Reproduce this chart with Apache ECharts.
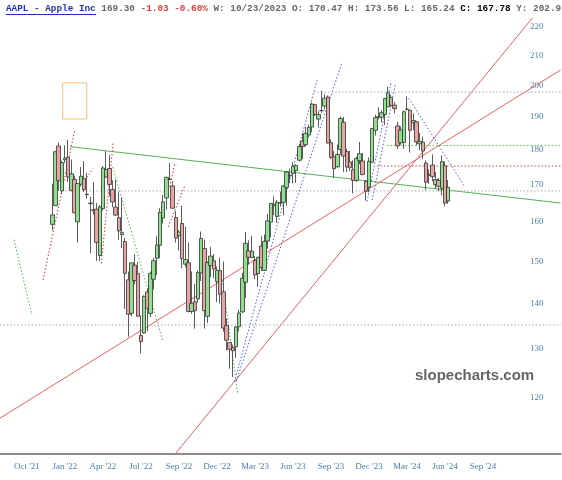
<!DOCTYPE html>
<html><head><meta charset="utf-8">
<script src="https://cdn.jsdelivr.net/npm/echarts@6/dist/echarts.min.js"></script>
<style>html,body{margin:0;padding:0;background:#fff}#c{width:562px;height:480px}</style>
</head><body><div id="c"></div>
<script>
// ---- data ----
const axisStart = '2021-08-09';   // first weekly slot on the x axis
const weekSlots = 177;            // weekly slots shown (incl. future)
const firstCandleSlot = 16;       // 2021-11-29
const opens  = [159.37,164.29,181.12,168.28,177.09,177.83,168.48,171.51,160.02,170.16,171.73,167.37,164.98,163.06,163.36,151.45,163.51,172.17,174.57,168.71,163.92,161.12,156.71,154.93,145.55,137.79,149.07,147.03,132.87,133.42,142.70,137.77,145.67,150.74,154.01,161.01,166.37,171.52,169.69,161.15,156.47,159.59,149.31,149.66,138.21,140.42,141.07,147.19,153.16,137.11,148.97,150.16,145.14,147.77,142.70,135.11,131.38,130.28,130.47,134.83,138.12,144.96,152.57,150.95,150.20,147.05,153.79,147.81,155.07,159.94,164.27,161.42,165.09,165.19,169.28,172.48,173.16,173.98,176.96,182.63,181.50,184.41,186.83,193.78,189.26,191.90,193.33,196.24,182.13,177.97,175.07,180.09,188.28,179.49,176.48,174.20,171.22,176.81,176.75,170.91,169.35,176.38,185.82,189.89,189.84,190.68,193.11,196.09,193.61,187.15,182.09,182.16,192.30,192.01,188.15,188.42,181.79,182.24,176.15,172.94,175.57,170.00,171.19,169.03,175.36,165.52];
const highs  = [170.30,179.63,182.13,176.85,181.33,182.94,177.18,172.54,170.35,175.00,176.65,173.34,166.69,170.70,165.02,164.48,175.28,179.61,178.49,171.27,171.53,167.88,166.48,155.83,147.52,149.68,151.74,149.87,137.34,141.91,143.49,147.55,150.86,156.28,163.63,167.19,172.17,176.15,171.05,162.90,157.82,164.26,158.74,154.72,147.54,144.52,147.85,157.50,155.45,150.01,153.59,151.83,148.72,150.92,149.97,136.63,131.41,130.90,134.92,138.61,147.23,157.38,155.23,156.33,151.30,151.11,156.30,156.74,162.14,165.00,166.84,165.80,168.16,169.85,173.85,174.59,176.39,175.77,181.78,184.95,186.99,187.56,194.48,193.88,191.70,198.23,197.14,196.73,183.13,179.69,181.55,189.98,189.98,180.30,179.70,176.97,177.99,182.34,179.08,171.38,177.78,186.57,190.67,192.93,192.09,195.99,199.62,196.95,194.66,188.44,187.05,191.95,196.38,192.20,191.05,188.67,185.04,183.92,176.90,174.38,178.67,173.60,171.92,178.36,176.63,171.34];
const lows   = [157.80,164.28,168.34,167.46,176.19,170.82,168.17,162.30,154.70,169.51,168.04,166.19,152.00,161.91,150.10,150.10,163.01,172.04,166.80,163.91,161.50,155.38,153.27,138.80,132.61,137.14,144.46,137.06,129.04,133.32,133.77,136.93,143.25,146.70,150.80,159.63,163.25,171.31,163.56,154.67,152.68,148.37,148.56,138.00,137.69,134.37,140.27,145.27,134.38,135.63,146.15,145.92,140.35,140.00,133.73,129.64,125.87,124.17,128.12,133.77,137.90,141.32,149.22,150.85,145.72,143.90,147.61,147.70,153.14,155.98,161.80,159.78,164.03,161.68,164.31,170.42,170.42,170.52,176.57,177.35,180.97,183.67,185.23,190.22,186.60,191.23,192.28,181.92,177.35,171.96,174.82,178.55,173.54,173.58,173.86,167.62,170.82,175.80,172.64,165.67,167.90,176.21,184.21,189.25,188.19,187.45,193.03,193.17,191.09,180.17,181.50,180.30,191.94,179.25,185.84,181.35,180.00,177.38,168.49,170.29,170.97,168.94,168.23,167.11,164.08,164.77];
const closes = [161.84,179.45,171.14,176.28,177.57,172.17,173.07,162.41,170.33,172.39,168.64,167.30,164.85,163.17,154.73,163.98,174.72,174.31,170.09,165.29,161.79,157.65,157.28,147.11,137.59,149.64,145.38,137.13,131.56,141.66,138.93,147.04,150.17,154.09,162.51,165.35,172.10,171.52,163.62,155.81,157.37,150.70,150.43,138.20,140.09,138.38,147.27,155.74,138.38,149.70,151.29,148.11,147.81,142.16,134.51,131.86,129.93,129.62,134.76,137.87,145.93,154.50,151.01,152.55,146.71,151.03,148.50,155.00,160.25,164.90,164.66,165.21,165.02,169.68,173.57,172.57,175.16,175.43,180.95,180.96,184.92,186.68,193.97,190.68,190.69,191.94,195.83,181.99,177.79,174.49,178.61,189.46,178.18,175.01,174.79,171.21,177.49,178.85,172.88,168.22,176.65,186.40,189.69,189.97,191.24,195.71,197.57,193.60,192.53,181.18,185.92,191.56,192.42,185.85,188.85,182.31,182.52,179.66,170.73,172.62,172.28,171.48,169.58,176.55,165.00,169.30];
const xTickLabels = ["Oct '21","Jan '22","Apr '22","Jul '22","Sep '22","Dec '22","Mar '23","Jun '23","Sep '23","Dec '23","Mar '24","Jun '24","Sep '24"];
const xTickFirstSlot = 8, xTickEvery = 12;
const yTickValues = [120,130,140,150,160,170,180,190,200,210,220];
const yRange = [109.49, 223.27];
// drawn trendlines: [slotStart, priceStart, slotEnd, priceEnd]
const greenSolid = [[21.8,180.9,176.5,165.0]];
const redSolid = [[-0.5,116.1,176.5,205.1],[54.8,109.5,167.6,223.3]];
const grayDotted = [[98.7,197.8,176.5,197.8],[20.0,168.3,176.5,168.3],[-0.5,135.2,176.5,135.2]];
const redDottedH = [[118.5,175.3,176.5,175.3]];
const greenDottedH = [[121.7,181.3,176.5,181.3]];
const blueDotted = [[73.5,123.2,99.6,201.7],[74.1,123.4,107.5,207.7],[115.4,165.4,122.9,200.7],[117.0,165.8,124.4,200.7],[128.6,195.8,145.9,169.9]];
const greenDotted = [[3.9,155.4,9.6,137.4],[35.1,175.0,50.8,131.9],[69.7,145.5,74.5,121.0]];
const redDotted = [[13.1,145.5,23.1,185.9],[25.7,170.4,28.9,174.6],[31.5,149.5,35.2,181.9],[52.6,158.7,57.9,169.9],[53.1,169.5,54.7,176.1]];
const noteBox = [19.3,200.8,26.9,189.3];

// ---- build ----
const cats = [];
const t0 = new Date(axisStart + 'T00:00:00Z').getTime();
for (let i = 0; i < weekSlots; i++) cats.push(new Date(t0 + i * 7 * 864e5).toISOString().slice(0, 10));
const candles = cats.map((c, i) => {
  const k = i - firstCandleSlot;
  return (k >= 0 && k < opens.length) ? [opens[k], closes[k], lows[k], highs[k]] : '-';
});

const styles = {
  greenSolid: {color: '#58b058', width: 1, type: 'solid'},
  redSolid: {color: '#f06060', width: 1, type: 'solid'},
  grayDotted: {color: '#a8a8a8', width: 1, type: [1.5, 2]},
  redDottedH: {color: '#e84040', width: 1, type: [1.5, 2]},
  greenDottedH: {color: '#50c050', width: 1, type: [1.5, 2]},
  blueDotted: {color: '#4a5ee0', width: 1, type: [1.5, 2]},
  greenDotted: {color: '#50b050', width: 1, type: [1.5, 2]},
  redDotted: {color: '#e03030', width: 1, type: [1.5, 2]}
};
const groups = {greenSolid, redSolid, grayDotted, redDottedH, greenDottedH, blueDotted, greenDotted, redDotted};
const lineSeries = [];
Object.keys(groups).forEach(name => {
  groups[name].forEach(seg => {
    lineSeries.push({
      type: 'line', xAxisIndex: 1, yAxisIndex: 0, silent: true, symbol: 'none', animation: false,
      data: [[seg[0], seg[1]], [seg[2], seg[3]]],
      lineStyle: styles[name], z: 1
    });
  });
});
lineSeries.push({
  type: 'line', xAxisIndex: 1, yAxisIndex: 0, silent: true, symbol: 'none', animation: false, data: [],
  markArea: {silent: true, itemStyle: {color: 'rgba(0,0,0,0)', borderColor: '#f7c26a', borderWidth: 1},
    data: [[{coord: [noteBox[0], noteBox[1]]}, {coord: [noteBox[2], noteBox[3]]}]]}
});

const chart = echarts.init(document.getElementById('c'), null, {renderer: 'canvas'});
chart.setOption({
  animation: false,
  backgroundColor: '#fff',
  title: {
    left: 6, top: 4, padding: 0,
    text: '{a|AAPL - Apple Inc} {g|169.30} {r|-1.03 -0.60%} {g|W: 10/23/2023 O: 170.47 H: 173.56 L: 165.24} {k|C: 167.78} {g|Y: 202.9}',
    textStyle: {
      fontFamily: 'Liberation Mono', fontSize: 9.35, color: '#666',
      rich: {
        a: {fontFamily: 'Liberation Mono', fontSize: 9.35, fontWeight: 'bold', color: '#2233aa'},
        g: {fontFamily: 'Liberation Mono', fontSize: 9.35, color: '#666'},
        r: {fontFamily: 'Liberation Mono', fontSize: 9.35, color: '#e03c3c'},
        k: {fontFamily: 'Liberation Mono', fontSize: 9.35, fontWeight: 'bold', color: '#000'}
      }
    }
  },
  graphic: [
    {type: 'line', shape: {x1: 6, y1: 14.5, x2: 96, y2: 14.5}, style: {stroke: '#2233aa', lineWidth: 1}},
    {type: 'text', left: 415, top: 368, style: {text: 'slopecharts.com', font: 'bold 15px "Liberation Sans", Arial, sans-serif', fill: '#666'}}
  ],
  grid: {left: 0, right: 0, top: 18, bottom: 26, containLabel: false},
  xAxis: [
    {
      type: 'category', data: cats, boundaryGap: true,
      axisLine: {show: true, lineStyle: {color: '#8a8a8a', width: 2}},
      axisTick: {show: false}, splitLine: {show: false},
      axisLabel: {
        interval: (idx) => idx >= xTickFirstSlot && (idx - xTickFirstSlot) % xTickEvery === 0,
        formatter: (v, idx) => xTickLabels[(idx - xTickFirstSlot) / xTickEvery] || '',
        color: '#4a7fb0', fontFamily: '"Liberation Serif", "DejaVu Serif", serif', fontSize: 9, margin: 8
      }
    },
    {type: 'value', min: -0.5, max: weekSlots - 0.5, show: false}
  ],
  yAxis: [{
    type: 'log', logBase: 10, min: yRange[0], max: yRange[1], position: 'right',
    axisLine: {show: false}, axisTick: {show: false}, splitLine: {show: false},
    axisLabel: {
      inside: true, margin: 17, customValues: yTickValues,
      formatter: (v) => String(Math.round(v)),
      color: '#4a7fb0', fontFamily: '"Liberation Serif", "DejaVu Serif", serif', fontSize: 9
    }
  }],
  series: [
    ...lineSeries,
    {
      type: 'candlestick', xAxisIndex: 0, yAxisIndex: 0, data: candles, barWidth: 4, z: 3,
      itemStyle: {color: '#8ee08e', color0: '#e9a3a3', borderColor: '#333', borderColor0: '#333', borderWidth: 0.8}
    }
  ]
});
</script></body></html>
